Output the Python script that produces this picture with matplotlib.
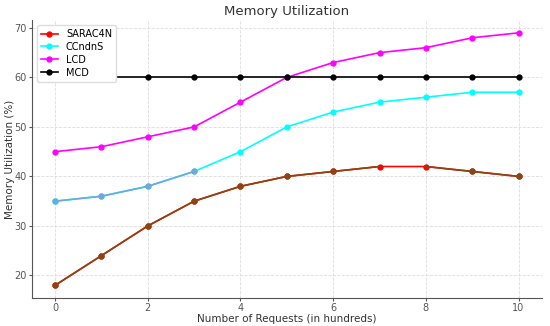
import numpy as np
import matplotlib.pyplot as plt

requests = list(range(11))
sarac4n = [18, 24, 30, 35, 38, 40, 41, 42, 42, 41, 40]
ccndns = [35, 36, 38, 41, 45, 50, 53, 55, 56, 57, 57]
lcd = [45, 46, 48, 50, 55, 60, 63, 65, 66, 68, 69]
mcd = [60, 60, 60, 60, 60, 60, 60, 60, 60, 60, 60]

BROWN = "#8b4513"


def main():
    fig, ax = plt.subplots(figsize=(5.5, 3.26), dpi=100)
    fig.subplots_adjust(left=0.058, right=0.985, top=0.938, bottom=0.086)

    ax.plot(requests, sarac4n, color="red", marker="o", ms=3.5, lw=1.2, label="SARAC4N")
    ax.plot(requests, ccndns, color="cyan", marker="o", ms=3.5, lw=1.2, label="CCndnS")
    ax.plot(requests, lcd, color="magenta", marker="o", ms=3.5, lw=1.2, label="LCD")
    ax.plot(requests, mcd, color="black", marker="o", ms=3.5, lw=1.2, label="MCD")

    # the picture shows most of the SARAC4N line in brown and the first CCndnS points in blue
    ax.plot(requests[:8], sarac4n[:8], color=BROWN, lw=1.2)
    ax.plot(requests[8:], sarac4n[8:], color=BROWN, lw=1.2)
    ax.plot(requests[:7], sarac4n[:7], color=BROWN, marker="o", ms=3.5, ls="none")
    ax.plot(requests[9:], sarac4n[9:], color=BROWN, marker="o", ms=3.5, ls="none")
    ax.plot(requests[:4], ccndns[:4], color="#6fa8dc", marker="o", ms=3.5, lw=1.2)

    ax.set_title("Memory Utilization", fontsize=9.5, color="#333333", pad=4)
    ax.set_xlabel("Number of Requests (in hundreds)", fontsize=7.5, color="#333333", labelpad=1)
    ax.set_ylabel("Memory Utilization (%)", fontsize=7.5, color="#333333", labelpad=1)
    ax.tick_params(labelsize=7, colors="#555555", length=2, pad=1.5)
    ax.set_xticks([0, 2, 4, 6, 8, 10])
    ax.grid(True, ls="--", lw=0.6, color="#dddddd")
    ax.set_axisbelow(True)
    for s in ["top", "right"]:
        ax.spines[s].set_visible(False)
    for s in ["left", "bottom"]:
        ax.spines[s].set_color("#555555")
    ax.yaxis.set_label_coords(-0.033, 0.5)

    ax.legend(loc="upper left", fontsize=7, handlelength=1.8, labelspacing=0.3,
              borderpad=0.4, framealpha=1, edgecolor="#dddddd")
    fig.savefig("out.png")


if __name__ == "__main__":
    main()
